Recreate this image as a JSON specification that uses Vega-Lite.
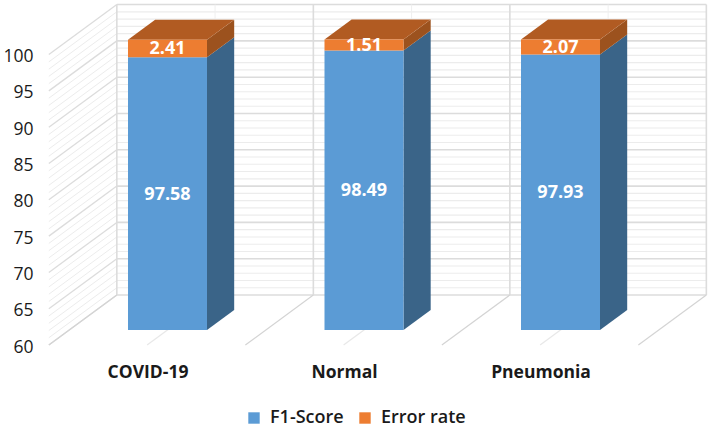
{"$schema":"https://vega.github.io/schema/vega-lite/v6.json","width":671,"height":355,"autosize":"none","padding":{"left":38,"top":0,"right":0,"bottom":73},"background":"white","config":{"view":{"stroke":null},"axis":{"domain":false,"ticks":false,"grid":false}},
"datasets":{"bars":[{"category":"COVID-19","series":"F1-Score","value":97.58},{"category":"COVID-19","series":"Error rate","value":2.41},{"category":"Normal","series":"F1-Score","value":98.49},{"category":"Normal","series":"Error rate","value":1.51},{"category":"Pneumonia","series":"F1-Score","value":97.93},{"category":"Pneumonia","series":"Error rate","value":2.07}],
"ticks":[{"value":60},{"value":61},{"value":62},{"value":63},{"value":64},{"value":65},{"value":66},{"value":67},{"value":68},{"value":69},{"value":70},{"value":71},{"value":72},{"value":73},{"value":74},{"value":75},{"value":76},{"value":77},{"value":78},{"value":79},{"value":80},{"value":81},{"value":82},{"value":83},{"value":84},{"value":85},{"value":86},{"value":87},{"value":88},{"value":89},{"value":90},{"value":91},{"value":92},{"value":93},{"value":94},{"value":95},{"value":96},{"value":97},{"value":98},{"value":99},{"value":100}],
"slots":[{"slot":0},{"slot":0.5},{"slot":1},{"slot":1.5},{"slot":2},{"slot":2.5},{"slot":3}]},
"layer":[
{"data":{"name":"ticks"},"transform":[{"calculate":"datum.value+4.821","as":"yb"}],"mark":{"type":"rule"},"encoding":{
"x":{"datum":0.2422,"type":"quantitative","scale":{"domain":[-0.159,3.2557],"nice":false,"zero":false},"axis":{"title":null,"values":[0.5,1.5,2.5],"labelExpr":"['COVID-19','Normal','Pneumonia'][floor(datum.value)]","labelOffset":-20,"labelFont":"Open Sans","labelFontWeight":"bold","labelFontSize":17.5,"labelColor":"#1a1a1a","labelPadding":8}},
"x2":{"datum":3.2422},
"y":{"field":"yb","type":"quantitative","scale":{"domain":[56.56,105.45],"nice":false,"zero":false},"axis":{"title":null,"values":[60,65,70,75,80,85,90,95,100],"labelOffset":17,"labelFont":"Open Sans","labelFontWeight":500,"labelFontSize":17.5,"labelColor":"#1a1a1a","labelPadding":5}},
"color":{"condition":{"test":"datum.value%5==0","value":"#dcdcdc"},"value":"#ececec"},
"strokeWidth":{"condition":{"test":"datum.value%5==0","value":1.6},"value":1.1}}},
{"data":{"name":"ticks"},"transform":[{"calculate":"datum.value-2.066","as":"ya"},{"calculate":"datum.value+4.821","as":"yb"}],"mark":{"type":"rule"},"encoding":{
"x":{"datum":-0.1038,"type":"quantitative","title":null},"x2":{"datum":0.2422},
"y":{"field":"ya","type":"quantitative","title":null},"y2":{"field":"yb"},
"color":{"condition":{"test":"datum.value%5==0","value":"#dcdcdc"},"value":"#ececec"},
"strokeWidth":{"condition":{"test":"datum.value%5==0","value":1.3},"value":1}}},
{"data":{"name":"slots"},"transform":[{"calculate":"datum.slot+0.2422","as":"xb"}],"mark":{"type":"rule"},"encoding":{
"x":{"field":"xb","type":"quantitative","title":null},
"y":{"datum":64.821,"type":"quantitative","title":null},"y2":{"datum":104.821},
"color":{"condition":{"test":"datum.slot%1==0","value":"#dcdcdc"},"value":"#efefef"},
"strokeWidth":{"condition":{"test":"datum.slot%1==0","value":1.6},"value":1}}},
{"data":{"name":"slots"},"transform":[{"calculate":"datum.slot-0.1038","as":"xa"},{"calculate":"datum.slot+0.2422","as":"xb"}],"mark":{"type":"rule"},"encoding":{
"x":{"field":"xa","type":"quantitative","title":null},"x2":{"field":"xb"},
"y":{"datum":57.934,"type":"quantitative","title":null},"y2":{"datum":64.821},
"color":{"condition":{"test":"datum.slot%1==0","value":"#d4d4d4"},"value":"#e8e8e8"},
"strokeWidth":{"value":1.2}}},
{"data":{"name":"bars"},"transform":[{"stack":"value","groupby":["category"],"sort":[{"field":"series","order":"descending"}],"as":["v0","v1"]},{"calculate":"max(datum.v0,60)","as":"v0c"},{"calculate":"indexof(['COVID-19','Normal','Pneumonia'],datum.category)+0.5","as":"u"},{"filter":"datum.series=='F1-Score'"},{"calculate":"[0,0.4]","as":"zs"},{"flatten":["zs"]},{"calculate":"datum.u+0.201+datum.zs*0.346","as":"xs"},{"calculate":"datum.v1+datum.zs*6.887","as":"yt"},{"calculate":"datum.v0c+datum.zs*6.887","as":"yb"}],"mark":{"type":"area","color":"#3A6488"},"encoding":{
"x":{"field":"xs","type":"quantitative","title":null},"y":{"field":"yt","type":"quantitative","title":null},"y2":{"field":"yb"},"detail":{"field":"category"}}},
{"data":{"name":"bars"},"transform":[{"stack":"value","groupby":["category"],"sort":[{"field":"series","order":"descending"}],"as":["v0","v1"]},{"calculate":"indexof(['COVID-19','Normal','Pneumonia'],datum.category)+0.5","as":"u"},{"filter":"datum.series=='Error rate'"},{"calculate":"[0,0.4]","as":"zs"},{"flatten":["zs"]},{"calculate":"datum.u+0.201+datum.zs*0.346","as":"xs"},{"calculate":"datum.v1+datum.zs*6.887","as":"yt"},{"calculate":"datum.v0+datum.zs*6.887","as":"yb"}],"mark":{"type":"area","color":"#9C521E"},"encoding":{
"x":{"field":"xs","type":"quantitative","title":null},"y":{"field":"yt","type":"quantitative","title":null},"y2":{"field":"yb"},"detail":{"field":"category"}}},
{"data":{"name":"bars"},"transform":[{"stack":"value","groupby":["category"],"sort":[{"field":"series","order":"descending"}],"as":["v0","v1"]},{"calculate":"indexof(['COVID-19','Normal','Pneumonia'],datum.category)+0.5","as":"u"},{"filter":"datum.series=='Error rate'"},{"calculate":"[[-0.201,0],[-0.063,1],[0.201,2],[0.339,3]]","as":"corner"},{"flatten":["corner"]},{"calculate":"datum.u+datum.corner[0]","as":"xs"},{"calculate":"datum.v1+(datum.corner[1]>0?2.755:0)","as":"yt"},{"calculate":"datum.v1+(datum.corner[1]>2?2.755:0)","as":"yb"}],"mark":{"type":"area","color":"#B15B22"},"encoding":{
"x":{"field":"xs","type":"quantitative","title":null},"y":{"field":"yt","type":"quantitative","title":null},"y2":{"field":"yb"},"detail":{"field":"category"}}},
{"data":{"name":"bars"},"transform":[{"stack":"value","groupby":["category"],"sort":[{"field":"series","order":"descending"}],"as":["v0","v1"]},{"calculate":"max(datum.v0,60)","as":"v0c"},{"calculate":"indexof(['COVID-19','Normal','Pneumonia'],datum.category)+0.5","as":"u"},{"calculate":"datum.u-0.201","as":"xa"},{"calculate":"datum.u+0.201","as":"xb"}],"mark":{"type":"rect"},"encoding":{
"x":{"field":"xa","type":"quantitative","title":null},"x2":{"field":"xb"},"y":{"field":"v0c","type":"quantitative","title":null},"y2":{"field":"v1"},
"color":{"field":"series","type":"nominal","scale":{"domain":["F1-Score","Error rate"],"range":["#5B9BD5","#ED7D31"]},"legend":{"title":null,"orient":"none","direction":"horizontal","legendX":207,"legendY":409,"symbolType":"square","symbolSize":130,"symbolStrokeWidth":0,"labelFont":"Open Sans","labelFontWeight":600,"labelFontSize":18,"labelOffset":7,"labelColor":"#1a1a1a","columnPadding":12}}}},
{"data":{"name":"bars"},"transform":[{"stack":"value","groupby":["category"],"sort":[{"field":"series","order":"descending"}],"as":["v0","v1"]},{"calculate":"max(datum.v0,60)","as":"v0c"},{"calculate":"indexof(['COVID-19','Normal','Pneumonia'],datum.category)+0.5","as":"u"},{"calculate":"(datum.v0c+datum.v1)/2","as":"ym"}],"mark":{"type":"text","color":"white","font":"Open Sans","fontWeight":"bold","fontSize":18,"baseline":"middle","align":"center","dy":1},"encoding":{
"x":{"field":"u","type":"quantitative","title":null},"y":{"field":"ym","type":"quantitative","title":null},"text":{"field":"value","type":"quantitative","format":".2f"}}}
]}
